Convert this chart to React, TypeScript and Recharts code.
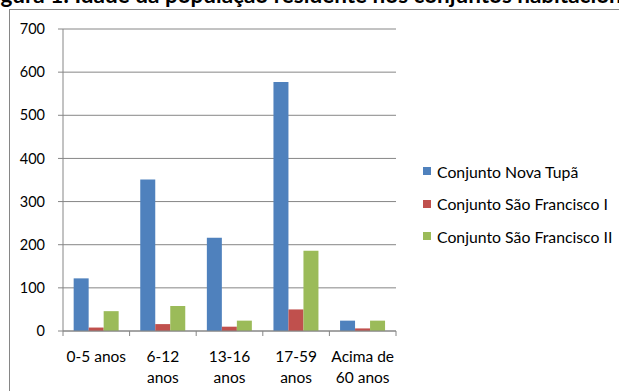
import React from 'react';
import { BarChart, Bar, XAxis, YAxis, CartesianGrid, Legend } from 'recharts';

const categories = ['0-5 anos', '6-12\nanos', '13-16\nanos', '17-59\nanos', 'Acima de\n60 anos'];
const novaTupa = [122, 351, 216, 577, 24];
const saoFranciscoI = [8, 16, 10, 50, 6];
const saoFranciscoII = [46, 58, 24, 186, 24];
const yTicks = [0, 100, 200, 300, 400, 500, 600, 700];

const seriesNames = ['Conjunto Nova Tupã', 'Conjunto São Francisco I', 'Conjunto São Francisco II'];
const seriesColors = ['#4F81BD', '#C0504D', '#9BBB59'];

const data = categories.map((c, i) => ({
  name: c,
  a: novaTupa[i],
  b: saoFranciscoI[i],
  c: saoFranciscoII[i],
}));

const AXIS = '#868686';
const FONT = 'Lato, "Open Sans", sans-serif';
const PLOT_LEFT = 63;
const PLOT_RIGHT = 396;
const BAND = (PLOT_RIGHT - PLOT_LEFT) / categories.length;

const XTick = (props: any) => {
  const { x, y, payload, index } = props;
  const lines = String(payload.value).split('\n');
  const top = y - 8; // axis line position (tickSize 0 + margin 8)
  return (
    <g>
      <line x1={x - BAND / 2} x2={x - BAND / 2} y1={top} y2={top + 5} stroke={AXIS} />
      {index === categories.length - 1 && (
        <line x1={x + BAND / 2} x2={x + BAND / 2} y1={top} y2={top + 5} stroke={AXIS} />
      )}
      <text x={x} y={top + 31} textAnchor="middle" fontSize={15.5} fill="#000" fontFamily={FONT}>
        {lines.map((l, i) => (
          <tspan key={i} x={x} dy={i === 0 ? 0 : 20.5}>
            {l}
          </tspan>
        ))}
      </text>
    </g>
  );
};

const LegendContent = () => (
  <div style={{ fontFamily: FONT, fontSize: 15.8, color: '#000' }}>
    {seriesNames.map((n, i) => (
      <div key={n} style={{ display: 'flex', alignItems: 'center', height: 32.5 }}>
        <span style={{ width: 8, height: 8, background: seriesColors[i], marginRight: 6, display: 'inline-block' }} />
        <span>{n}</span>
      </div>
    ))}
  </div>
);

export default function App() {
  return (
    <div style={{ position: 'fixed', left: 0, top: 0, width: 619, height: 391, overflow: 'hidden', background: '#fff' }}>
      <div
        style={{
          position: 'absolute',
          left: -18,
          top: -16,
          whiteSpace: 'nowrap',
          fontFamily: FONT,
          fontWeight: 700,
          fontSize: 22.5,
          lineHeight: '22.5px',
          color: '#000',
        }}
      >
        Figura 1: Idade da população residente nos conjuntos habitacionais
      </div>
      <div style={{ position: 'absolute', left: 9, top: 9, width: 800, height: 600, border: `1px solid ${AXIS}` }} />
      <div style={{ position: 'absolute', left: 0, top: 0 }}>
        <BarChart
          width={619}
          height={391}
          data={data}
          margin={{ top: 29, right: 619 - PLOT_RIGHT, bottom: 0, left: 0 }}
          barGap={0}
          barCategoryGap="16%"
        >
          <CartesianGrid vertical={false} stroke={AXIS} />
          <XAxis
            dataKey="name"
            height={60}
            axisLine={{ stroke: AXIS }}
            tickLine={false}
            tickSize={0}
            tickMargin={8}
            interval={0}
            tick={<XTick />}
          />
          <YAxis
            width={PLOT_LEFT}
            domain={[0, 700]}
            ticks={yTicks}
            interval={0}
            axisLine={{ stroke: AXIS }}
            tickLine={{ stroke: AXIS }}
            tickSize={5}
            tickMargin={13}
            tick={{ fontSize: 14.5, fill: '#000', fontFamily: FONT }}
          />
          <Legend
            layout="vertical"
            align="center"
            verticalAlign="middle"
            content={<LegendContent />}
            wrapperStyle={{ position: 'absolute', left: 423, top: 155, width: 200 }}
          />
          <Bar dataKey="a" name={seriesNames[0]} fill={seriesColors[0]} isAnimationActive={false} />
          <Bar dataKey="b" name={seriesNames[1]} fill={seriesColors[1]} isAnimationActive={false} />
          <Bar dataKey="c" name={seriesNames[2]} fill={seriesColors[2]} isAnimationActive={false} />
        </BarChart>
      </div>
    </div>
  );
}
